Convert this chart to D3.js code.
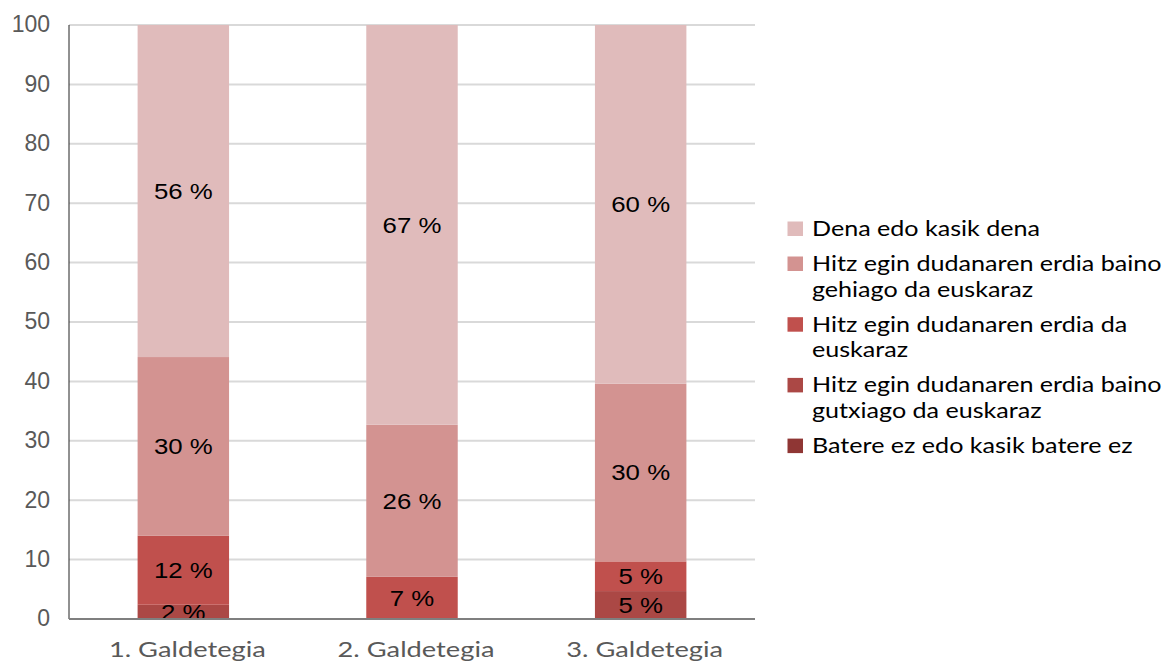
<!DOCTYPE html>
<html><head><meta charset="utf-8">
<script src="https://cdn.jsdelivr.net/npm/d3@7"></script>
<style>body{margin:0;background:#fff}</style>
</head><body>
<svg id="chart" width="1174" height="663"></svg>
<script>
const categories = ["1. Galdetegia", "2. Galdetegia", "3. Galdetegia"];
const seriesNames = [
  "Batere ez edo kasik batere ez",
  "Hitz egin dudanaren erdia baino gutxiago da euskaraz",
  "Hitz egin dudanaren erdia da euskaraz",
  "Hitz egin dudanaren erdia baino gehiago da euskaraz",
  "Dena edo kasik dena"
];
const bateraEz   = [0, 0, 0];
const gutxiago   = [2.4, 0, 4.7];
const erdiaDa    = [11.6, 7.1, 5.0];
const gehiago    = [30.1, 25.6, 29.9];
const dena       = [55.9, 67.3, 60.4];
const labelTexts = [
  ["", "", ""],
  ["2 %", "", "5 %"],
  ["12 %", "7 %", "5 %"],
  ["30 %", "26 %", "30 %"],
  ["56 %", "67 %", "60 %"]
];
const yTicks = [0,10,20,30,40,50,60,70,80,90,100];
const colors = ["#8f3634", "#ab4845", "#c0504d", "#d39391", "#e0bbbb"];

const seriesValues = [bateraEz, gutxiago, erdiaDa, gehiago, dena];
const svg = d3.select("#chart");
const mLeft = 69, mRight = 755, mTop = 25, mBottom = 619;
const SX = 1.225; // horizontal stretch of the reference legend text

const x = d3.scaleBand().domain(categories).range([mLeft, mRight]).paddingInner(0.6).paddingOuter(0.3);
const y = d3.scaleLinear().domain([0, 100]).range([mBottom, mTop]);

svg.append("g").selectAll("line").data(yTicks.filter(d => d > 0)).join("line")
  .attr("x1", mLeft).attr("x2", mRight)
  .attr("y1", d => y(d)).attr("y2", d => y(d))
  .attr("stroke", "#d9d9d9").attr("stroke-width", 2);

const table = categories.map((c, i) => {
  const o = {cat: c};
  seriesNames.forEach((s, j) => o[s] = seriesValues[j][i]);
  return o;
});
const stack = d3.stack().keys(seriesNames)(table);

const g = svg.append("g");
stack.forEach((layer, j) => {
  g.append("g").selectAll("rect").data(layer).join("rect")
    .attr("x", d => x(d.data.cat))
    .attr("width", x.bandwidth())
    .attr("y", d => y(d[1]))
    .attr("height", d => y(d[0]) - y(d[1]))
    .attr("fill", colors[j]);
});
stack.forEach((layer, j) => {
  g.append("g").selectAll("text").data(layer).join("text")
    .attr("transform", d => `translate(${x(d.data.cat) + x.bandwidth() / 2},${(y(d[0]) + y(d[1])) / 2}) scale(1.2,1)`)
    .attr("dy", "0.36em")
    .attr("text-anchor", "middle")
    .attr("font-family", "Liberation Sans, Arial, sans-serif")
    .attr("font-size", 21.5)
    .attr("fill", "#000")
    .text((d, i) => labelTexts[j][i]);
});

const yAxis = d3.axisLeft(y).tickValues(yTicks).tickSize(0).tickPadding(19);
const ya = svg.append("g").attr("transform", `translate(${mLeft},0)`).call(yAxis);
ya.select(".domain").remove();
ya.selectAll("text").attr("font-family", "Liberation Sans, Arial, sans-serif").attr("font-size", 23)
  .attr("fill", "#595959").attr("dy", "0.3em");
svg.append("line").attr("x1", mLeft).attr("x2", mLeft).attr("y1", mTop).attr("y2", mBottom).attr("stroke", "#222").attr("stroke-width", 1);

const xAxis = d3.axisBottom(x).tickSize(0);
const xa = svg.append("g").attr("transform", `translate(0,${mBottom})`).call(xAxis);
xa.select(".domain").remove();
xa.selectAll("text").attr("font-family", "Lato, sans-serif").attr("font-size", 20.5)
  .attr("fill", "#595959").attr("y", 0).attr("dy", 0)
  .attr("transform", `translate(4,38) scale(1.33,1)`);
svg.append("line").attr("x1", mLeft).attr("x2", mRight).attr("y1", mBottom).attr("y2", mBottom).attr("stroke", "#7f7f7f").attr("stroke-width", 2);

const legendOrder = seriesNames.slice().reverse();
const legendColors = colors.slice().reverse();
const lg = svg.append("g");
let ly = 236;
legendOrder.forEach((name, i) => {
  lg.append("rect").attr("x", 787.5).attr("y", ly - 14.5).attr("width", 15.5).attr("height", 14.5).attr("fill", legendColors[i]);
  const t = lg.append("text").attr("transform", `translate(812,${ly}) scale(${SX},1)`)
    .attr("font-family", "Lato, sans-serif").attr("font-size", 20.5).attr("fill", "#000");
  const words = name.split(" ");
  let line = [], lineNo = 0;
  let tspan = t.append("tspan").attr("x", 0).attr("dy", 0);
  words.forEach(w => {
    line.push(w);
    tspan.text(line.join(" "));
    if (tspan.node().getComputedTextLength() * SX > 360 && line.length > 1) {
      line.pop(); tspan.text(line.join(" "));
      line = [w]; lineNo++;
      tspan = t.append("tspan").attr("x", 0).attr("dy", 25.7).text(w);
    }
  });
  ly += 35 + lineNo * 25.7;
});
</script>
</body></html>
